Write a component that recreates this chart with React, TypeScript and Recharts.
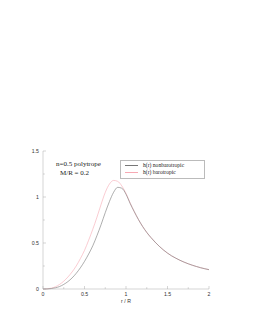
import React from "react";
import { LineChart, Line, XAxis, YAxis } from "recharts";

const rValues = [0, 0.05, 0.1, 0.15, 0.2, 0.25, 0.3, 0.35, 0.4, 0.45, 0.5, 0.55, 0.6, 0.65, 0.7, 0.75, 0.8, 0.85, 0.9, 0.95, 1.0, 1.05, 1.1, 1.15, 1.2, 1.25, 1.3, 1.35, 1.4, 1.45, 1.5, 1.55, 1.6, 1.65, 1.7, 1.75, 1.8, 1.85, 1.9, 1.95, 2.0];
const nonbarotropic = [0, 0.001, 0.005, 0.013, 0.027, 0.05, 0.08, 0.12, 0.17, 0.23, 0.3, 0.38, 0.47, 0.58, 0.7, 0.83, 0.95, 1.05, 1.105, 1.095, 1.03, 0.93, 0.84, 0.755, 0.68, 0.615, 0.56, 0.51, 0.465, 0.425, 0.39, 0.36, 0.335, 0.312, 0.292, 0.274, 0.258, 0.244, 0.231, 0.22, 0.21];
const barotropic = [0, 0.002, 0.009, 0.024, 0.05, 0.085, 0.13, 0.185, 0.25, 0.33, 0.42, 0.53, 0.65, 0.78, 0.92, 1.05, 1.14, 1.18, 1.17, 1.12, 1.04, 0.935, 0.84, 0.755, 0.68, 0.615, 0.56, 0.51, 0.465, 0.425, 0.39, 0.36, 0.335, 0.312, 0.292, 0.274, 0.258, 0.244, 0.231, 0.22, 0.21];
const xTicks = [0, 0.25, 0.5, 0.75, 1, 1.25, 1.5, 1.75, 2];
const yTicks = [0, 0.25, 0.5, 0.75, 1, 1.25, 1.5];
const xLabels = ["0", "0.5", "1", "1.5", "2"];
const yLabels = ["0", "0.5", "1", "1.5"];
const legendNames = ["h(r)  nonbarotropic", "h(r)  barotropic"];
const annotation = ["n=0.5 polytrope", "M/R = 0.2"];

const data = rValues.map((r, i) => ({ r, non: nonbarotropic[i], baro: barotropic[i] }));

const fmt = (v: number) => String(v);
const tickFont = "Liberation Sans, Arial, sans-serif";
const frame = "#aaa";
const grayLine = "#777";
const pinkLine = "#f7a9b3";

const BottomTick = (props: any) => {
  const { x, y, payload } = props;
  const label = fmt(payload.value);
  const major = xLabels.includes(label);
  return (
    <g>
      <line x1={x} y1={y} x2={x} y2={y - (major ? 3 : 1.8)} stroke={frame} strokeWidth={0.5} />
      {major && (
        <text x={x} y={y + 6.5} textAnchor="middle" fontSize={5.2} fontFamily={tickFont} fill="#333">
          {label}
        </text>
      )}
    </g>
  );
};
const TopTick = (props: any) => {
  const { x, y, payload } = props;
  const major = xLabels.includes(fmt(payload.value));
  return <line x1={x} y1={y} x2={x} y2={y + (major ? 3 : 1.8)} stroke={frame} strokeWidth={0.5} />;
};
const LeftTick = (props: any) => {
  const { x, y, payload } = props;
  const label = fmt(payload.value);
  const major = yLabels.includes(label);
  return (
    <g>
      <line x1={x} y1={y} x2={x + (major ? 3 : 1.8)} y2={y} stroke={frame} strokeWidth={0.5} />
      {major && (
        <text x={x - 4} y={y + 1.8} textAnchor="end" fontSize={5.2} fontFamily={tickFont} fill="#333">
          {label}
        </text>
      )}
    </g>
  );
};
const RightTick = (props: any) => {
  const { x, y, payload } = props;
  const major = yLabels.includes(fmt(payload.value));
  return <line x1={x} y1={y} x2={x - (major ? 3 : 1.8)} y2={y} stroke={frame} strokeWidth={0.5} />;
};

export default function App() {
  return (
    <div style={{ position: "absolute", left: 0, top: 0, width: 253, height: 327, background: "#fff" }}>
      <LineChart width={253} height={327} data={data} margin={{ top: 151, right: 44, bottom: 0, left: 0 }}>
        <XAxis
          xAxisId="b"
          dataKey="r"
          type="number"
          domain={[0, 2]}
          ticks={xTicks}
          interval={0}
          tickSize={0}
          tickMargin={0}
          tickLine={false}
          tick={BottomTick}
          axisLine={{ stroke: frame, strokeWidth: 0.5 }}
          height={38}
          label={{ value: "r / R", position: "insideTop", offset: 10, fontSize: 5.2, fontFamily: tickFont, fill: "#333" }}
        />
        <XAxis
          xAxisId="t"
          orientation="top"
          dataKey="r"
          type="number"
          domain={[0, 2]}
          ticks={xTicks}
          interval={0}
          tickSize={0}
          tickMargin={0}
          tickLine={false}
          tick={TopTick}
          axisLine={{ stroke: frame, strokeWidth: 0.5 }}
          height={0}
        />
        <YAxis
          yAxisId="l"
          type="number"
          domain={[0, 1.5]}
          ticks={yTicks}
          interval={0}
          tickSize={0}
          tickMargin={0}
          tickLine={false}
          tick={LeftTick}
          axisLine={{ stroke: frame, strokeWidth: 0.5 }}
          width={43}
        />
        <YAxis
          yAxisId="r"
          orientation="right"
          type="number"
          domain={[0, 1.5]}
          ticks={yTicks}
          interval={0}
          tickSize={0}
          tickMargin={0}
          tickLine={false}
          tick={RightTick}
          axisLine={{ stroke: frame, strokeWidth: 0.5 }}
          width={0}
        />
        <Line xAxisId="b" yAxisId="l" type="monotone" dataKey="baro" stroke={pinkLine} strokeWidth={0.6} dot={false} isAnimationActive={false} />
        <Line xAxisId="b" yAxisId="l" type="monotone" dataKey="non" stroke={grayLine} strokeWidth={0.6} dot={false} isAnimationActive={false} />
      </LineChart>
      <div style={{ position: "absolute", left: 0, top: 0, width: 253, height: 327, pointerEvents: "none", fontFamily: "Liberation Serif, Times New Roman, serif", color: "#222" }}>
        <div style={{ position: "absolute", left: 56, top: 160, fontSize: 7, lineHeight: "8px", whiteSpace: "nowrap" }}>{annotation[0]}</div>
        <div style={{ position: "absolute", left: 60, top: 168.5, fontSize: 7, lineHeight: "8px", whiteSpace: "nowrap" }}>{annotation[1]}</div>
        <div style={{ position: "absolute", left: 120, top: 160, width: 85, height: 19, border: "0.5px solid #bbb", boxSizing: "border-box", background: "#fff" }} />
        <div style={{ position: "absolute", left: 125, top: 164.5, width: 13, height: 0, borderTop: "0.6px solid " + grayLine }} />
        <div style={{ position: "absolute", left: 125, top: 171.5, width: 13, height: 0, borderTop: "0.6px solid " + pinkLine }} />
        <div style={{ position: "absolute", left: 143, top: 161.5, fontSize: 5.6, lineHeight: "6px", whiteSpace: "nowrap" }}>{legendNames[0]}</div>
        <div style={{ position: "absolute", left: 143, top: 168.5, fontSize: 5.6, lineHeight: "6px", whiteSpace: "nowrap" }}>{legendNames[1]}</div>
      </div>
    </div>
  );
}
